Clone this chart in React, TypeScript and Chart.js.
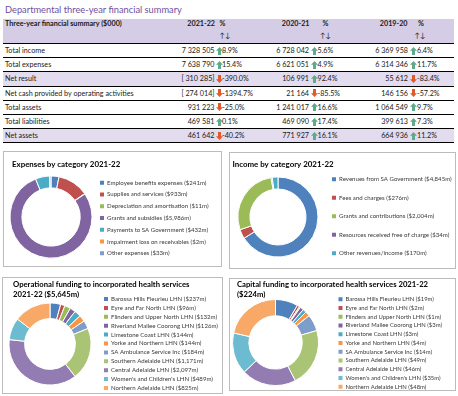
import React, { useEffect, useRef } from 'react';
import { Chart, registerables } from 'chart.js';

Chart.register(...registerables);

const FONT = 'Lato, "Liberation Sans", Arial, sans-serif';
Chart.defaults.font.family = FONT;

// ---------------- Table data ----------------
const pageTitle = 'Departmental three-year financial summary';
const tableHeading = 'Three-year financial summary ($000)';
const years = ['2021-22', '2020-21', '2019-20'];
const rowLabels = [
  'Total income',
  'Total expenses',
  'Net result',
  'Net cash provided by operating activities',
  'Total assets',
  'Total liabilities',
  'Net assets',
];
const highlightRows = [2, 6];
const values2021_22 = ['7 328 505', '7 638 790', '[ 310 285]', '[ 274 014]', '931 223', '469 581', '461 642'];
const values2020_21 = ['6 728 042', '6 621 051', '106 991', '21 164', '1 241 017', '469 090', '771 927'];
const values2019_20 = ['6 369 958', '6 314 346', '55 612', '146 156', '1 064 549', '399 613', '664 936'];
const change2021_22 = [8.9, 15.4, -390.0, -1394.7, -25.0, 0.1, -40.2];
const change2020_21 = [5.6, 4.9, 92.4, -85.5, 16.6, 17.4, 16.1];
const change2019_20 = [6.4, 11.7, -83.4, -57.2, 9.7, 7.3, 11.2];

// ---------------- Chart data ----------------
const expenseTitle = ['Expenses by category 2021-22'];
const expenseLabels = [
  'Employee benefits expenses ($241m)',
  'Supplies and services ($933m)',
  'Depreciation and amortisation ($11m)',
  'Grants and subsidies ($5,986m)',
  'Payments to SA Government ($432m)',
  'Impairment loss on receivables ($2m)',
  'Other expenses ($33m)',
];
const expenseValues = [241, 933, 11, 5986, 432, 2, 33];

const incomeTitle = ['Income by category 2021-22'];
const incomeLabels = [
  'Revenues from SA Government ($4,845m)',
  'Fees and charges ($276m)',
  'Grants and contributions ($2,004m)',
  'Resources received free of charge ($34m)',
  'Other revenues/income ($170m)',
];
const incomeValues = [4845, 276, 2004, 34, 170];

const opTitle = ['Operational funding to incorporated health services', '2021-22 ($5,645m)'];
const opLabels = [
  'Barossa Hills Fleurieu LHN ($237m)',
  'Eyre and Far North LHN ($96m)',
  'Flinders and Upper North LHN ($132m)',
  'Riverland Mallee Coorong LHN ($126m)',
  'Limestone Coast LHN ($144m)',
  'Yorke and Northern LHN ($144m)',
  'SA Ambulance Service Inc ($184m)',
  'Southern Adelaide LHN ($1,171m)',
  'Central Adelaide LHN ($2,097m)',
  "Women's and Children's LHN ($489m)",
  'Northern Adelaide LHN ($825m)',
];
const opValues = [237, 96, 132, 126, 144, 144, 184, 1171, 2097, 489, 825];

const capTitle = ['Capital funding to incorporated health services 2021-22', '($224m)'];
const capLabels = [
  'Barossa Hills Fleurieu LHN ($19m)',
  'Eyre and Far North LHN ($2m)',
  'Flinders and Upper North LHN ($1m)',
  'Riverland Mallee Coorong LHN ($3m)',
  'Limestone Coast LHN ($3m)',
  'Yorke and Northern LHN ($4m)',
  'SA Ambulance Service Inc ($14m)',
  'Southern Adelaide LHN ($49m)',
  'Central Adelaide LHN ($46m)',
  "Women's and Children's LHN ($35m)",
  'Northern Adelaide LHN ($48m)',
];
const capValues = [19, 2, 1, 3, 3, 4, 14, 49, 46, 35, 48];

const palette = [
  '#4F81BD', '#C0504D', '#9BBB59', '#8064A2', '#4BACC6', '#F79646',
  '#7F9DCB', '#A9C475', '#927CB2', '#6CBBD0', '#F8A867',
];

// ---------------- Layout (styles) ----------------
const PURPLE = '#6F509F';
const HEAD_BG = '#D5CDE5';
const ROW_BG = '#E2DCEE';
const TEXT = '#1a1a1a';
const TFS = 7.2;
const ROW_TOP = 44;
const ROW_H = 14.2;
const COLS = [
  { valueRight: 214.5, arrowX: 215.5, pctX: 222, yearRight: 215, pctHeadX: 219.5, arrowsHeadX: 219.5 },
  { valueRight: 309, arrowX: 310.5, pctX: 317.5, yearRight: 309.5, pctHeadX: 322.5, arrowsHeadX: 320 },
  { valueRight: 408, arrowX: 410, pctX: 417, yearRight: 407.5, pctHeadX: 418, arrowsHeadX: 414.5 },
];

const placer = {
  id: 'placer',
  afterLayout(chart: any, _args: any, o: any) {
    if (!o || o.cx === undefined) return;
    const half = o.r + 0.5;
    chart.chartArea = {
      left: o.cx - half, right: o.cx + half, top: o.cy - half, bottom: o.cy + half,
      width: 2 * half, height: 2 * half,
    };
    const lg = chart.legend;
    if (lg) {
      lg.left = o.legendLeft;
      lg.top = o.legendTop;
      lg.right = chart.width + 300;
      lg.bottom = lg.top + 2000;
      lg.width = lg.right - lg.left;
      lg.height = lg.bottom - lg.top;
    }
    const t = chart.titleBlock;
    if (t) {
      const w = t.right - t.left;
      const h = t.bottom - t.top;
      t.left = o.titleLeft;
      t.right = t.left + w;
      t.top = o.titleTop;
      t.bottom = t.top + h;
    }
  },
};

type Spec = {
  left: number; top: number; width: number; height: number;
  titleX: number; titleY: number; titleLH: number; titleFS: number;
  cx: number; cy: number; r: number; cutout: string;
  legendX: number; legendY: number; legendGap: number; legendFS: number;
};

function Donut({ spec, title, labels, values }: { spec: Spec; title: string[]; labels: string[]; values: number[] }) {
  const ref = useRef<HTMLCanvasElement>(null);
  const cw = spec.width - 2;
  const ch = spec.height - 2;
  useEffect(() => {
    const ox = spec.left + 1;
    const oy = spec.top + 1;
    const boxW = 4;
    const boxH = 4;
    const ih = Math.max(spec.legendFS, boxH);
    const p = spec.legendGap - ih;
    const chart = new Chart(ref.current as HTMLCanvasElement, {
      type: 'doughnut',
      data: {
        labels,
        datasets: [{
          data: values,
          backgroundColor: palette.slice(0, values.length),
          borderColor: '#ffffff',
          borderWidth: 1,
        }],
      },
      options: {
        responsive: false,
        maintainAspectRatio: false,
        animation: false,
        cutout: spec.cutout,
        layout: { padding: 0 },
        plugins: {
          tooltip: { enabled: false },
          title: {
            display: true,
            text: title,
            align: 'start',
            color: '#000000',
            padding: 0,
            font: { family: FONT, size: spec.titleFS, weight: 'bold', lineHeight: spec.titleLH + 'px' },
          },
          legend: {
            position: 'right',
            align: 'start',
            labels: {
              boxWidth: boxW,
              boxHeight: boxH,
              padding: p,
              color: '#3a3a3a',
              font: { family: FONT, size: spec.legendFS },
              generateLabels: (c: any) => {
                const base = (Chart as any).overrides.doughnut.plugins.legend.labels.generateLabels(c);
                return base.map((l: any) => ({ ...l, lineWidth: 0 }));
              },
            },
          },
          placer: {
            cx: spec.cx - ox,
            cy: spec.cy - oy,
            r: spec.r,
            legendLeft: spec.legendX - ox - p,
            legendTop: spec.legendY - oy - ih / 2 - p,
            titleLeft: spec.titleX - ox,
            titleTop: spec.titleY - oy - spec.titleLH / 2,
          },
        } as any,
      },
      plugins: [placer],
    });
    return () => chart.destroy();
  }, []);
  return (
    <div
      style={{
        position: 'absolute', left: spec.left, top: spec.top, width: spec.width, height: spec.height,
        border: '1px solid #bcbcbc', boxSizing: 'border-box', background: '#fff',
      }}
    >
      <canvas ref={ref} width={cw} height={ch} style={{ display: 'block', width: cw, height: ch }} />
    </div>
  );
}

function Arrow({ up, x, cy }: { up: boolean; x: number; cy: number }) {
  const color = up ? '#5FA98C' : '#E2592A';
  const pts = up
    ? '3.5,0 7,3.8 5,3.8 5,8 2,8 2,3.8 0,3.8'
    : '3.5,8 7,4.2 5,4.2 5,0 2,0 2,4.2 0,4.2';
  return (
    <svg style={{ position: 'absolute', left: x, top: cy - 4 }} width={7} height={8} viewBox="0 0 7 8">
      <polygon points={pts} fill={color} />
    </svg>
  );
}

const specs: Record<string, Spec> = {
  exp: {
    left: 3, top: 151, width: 219, height: 116,
    titleX: 12, titleY: 164, titleLH: 10, titleFS: 7.9,
    cx: 51, cy: 217, r: 41, cutout: '71%',
    legendX: 100, legendY: 182.7, legendGap: 11.77, legendFS: 6.1,
  },
  inc: {
    left: 229, top: 152, width: 227, height: 117,
    titleX: 232.5, titleY: 164, titleLH: 10, titleFS: 7.9,
    cx: 278, cy: 217, r: 40, cutout: '70%',
    legendX: 332, legendY: 179.3, legendGap: 18.5, legendFS: 6.1,
  },
  op: {
    left: 2, top: 277, width: 221, height: 117,
    titleX: 13, titleY: 285, titleLH: 10, titleFS: 7.7,
    cx: 50, cy: 344, r: 41, cutout: '62%',
    legendX: 104, legendY: 299, legendGap: 8.9, legendFS: 6.1,
  },
  cap: {
    left: 229, top: 278, width: 227, height: 113,
    titleX: 237, titleY: 285, titleLH: 9.5, titleFS: 7.7,
    cx: 275.5, cy: 342.5, r: 43, cutout: '62%',
    legendX: 338.5, legendY: 299.3, legendGap: 8.74, legendFS: 5.9,
  },
};

export default function App() {
  const valueCols = [values2021_22, values2020_21, values2019_20];
  const changeCols = [change2021_22, change2020_21, change2019_20];
  const txt = (extra: React.CSSProperties): React.CSSProperties => ({
    position: 'absolute', whiteSpace: 'nowrap', fontFamily: FONT, fontSize: TFS, color: TEXT, ...extra,
  });
  return (
    <div style={{ position: 'fixed', left: 0, top: 0, width: 458, height: 396, background: '#fff', overflow: 'hidden' }}>
      <div style={txt({ left: 5, top: 3, height: 14, lineHeight: '14px', fontSize: 9.3, color: PURPLE })}>{pageTitle}</div>
      <div style={{ position: 'absolute', left: 3, top: 19, width: 451, height: 25, background: HEAD_BG, borderBottom: '1px solid #000', boxSizing: 'border-box' }} />
      <div style={txt({ left: 5, top: 19, height: 10, lineHeight: '10px', fontWeight: 'bold' })}>{tableHeading}</div>
      {years.map((y, i) => (
        <React.Fragment key={y}>
          <div style={txt({ left: COLS[i].yearRight - 60, width: 60, textAlign: 'right', top: 19, height: 10, lineHeight: '10px', fontWeight: 'bold' })}>{y}</div>
          <div style={txt({ left: COLS[i].pctHeadX, top: 19, height: 10, lineHeight: '10px', fontWeight: 'bold' })}>%</div>
          <div style={txt({ left: COLS[i].arrowsHeadX, top: 31, height: 10, lineHeight: '10px' })}>↑↓</div>
        </React.Fragment>
      ))}
      {rowLabels.map((label, r) => {
        const top = ROW_TOP + r * ROW_H;
        const cy = top + ROW_H / 2;
        return (
          <React.Fragment key={label}>
            <div style={{
              position: 'absolute', left: 3, top, width: 451, height: ROW_H,
              background: highlightRows.includes(r) ? ROW_BG : 'transparent',
              borderBottom: '1px solid #000', boxSizing: 'border-box',
            }} />
            <div style={txt({ left: 5, top, height: ROW_H, lineHeight: ROW_H + 'px' })}>{label}</div>
            {valueCols.map((vals, c) => {
              const chg = changeCols[c][r];
              return (
                <React.Fragment key={c}>
                  <div style={txt({ left: COLS[c].valueRight - 80, width: 80, textAlign: 'right', top, height: ROW_H, lineHeight: ROW_H + 'px' })}>{vals[r]}</div>
                  <Arrow up={chg >= 0} x={COLS[c].arrowX} cy={cy - 0.5} />
                  <div style={txt({ left: COLS[c].pctX, top, height: ROW_H, lineHeight: ROW_H + 'px' })}>{chg.toFixed(1) + '%'}</div>
                </React.Fragment>
              );
            })}
          </React.Fragment>
        );
      })}
      <Donut spec={specs.exp} title={expenseTitle} labels={expenseLabels} values={expenseValues} />
      <Donut spec={specs.inc} title={incomeTitle} labels={incomeLabels} values={incomeValues} />
      <Donut spec={specs.op} title={opTitle} labels={opLabels} values={opValues} />
      <Donut spec={specs.cap} title={capTitle} labels={capLabels} values={capValues} />
    </div>
  );
}
